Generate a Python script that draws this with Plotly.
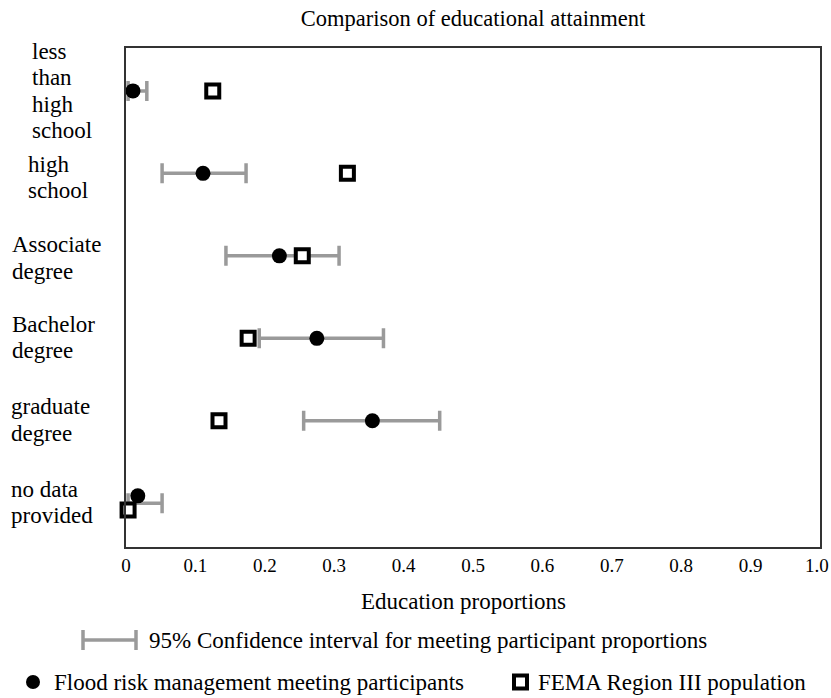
import plotly.graph_objects as go

categories = ["less than high school", "high school", "Associate degree",
              "Bachelor degree", "graduate degree", "no data provided"]
category_lines = [["less", "than", "high", "school"], ["high", "school"], ["Associate", "degree"],
                  ["Bachelor", "degree"], ["graduate", "degree"], ["no data", "provided"]]
participants = [0.010, 0.111, 0.221, 0.275, 0.355, 0.017]
ci_low = [0.003, 0.052, 0.144, 0.192, 0.256, 0.003]
ci_high = [0.030, 0.173, 0.307, 0.371, 0.452, 0.052]
fema = [0.125, 0.319, 0.254, 0.176, 0.134, 0.003]
x_ticks = [0, 0.1, 0.2, 0.3, 0.4, 0.5, 0.6, 0.7, 0.8, 0.9]
x_tick_text = ["0", "0.1", "0.2", "0.3", "0.4", "0.5", "0.6", "0.7", "0.8", "0.9"]
x_end_value = 1.0
x_end_label = "1.0"

FONT = "Liberation Serif"
GRAY = "#9a9a9a"
W, H = 831, 698
L, R, T, B = 126, 11, 48, 151
PW, PH = W - L - R, H - T - B

ypos = list(range(len(categories)))
# small vertical separation used in the last row of the original
offset_circle = [0, 0, 0, 0, 0, -0.09]
offset_square = [0, 0, 0, 0, 0, 0.08]
y_c = [y + o for y, o in zip(ypos, offset_circle)]
y_s = [y + o for y, o in zip(ypos, offset_square)]

fig = go.Figure()
fig.add_trace(go.Scatter(
    x=participants, y=ypos, mode="markers",
    marker=dict(size=1, color="rgba(0,0,0,0)"),
    error_x=dict(type="data", symmetric=False,
                 array=[h - p for h, p in zip(ci_high, participants)],
                 arrayminus=[p - l for p, l in zip(participants, ci_low)],
                 color=GRAY, thickness=3.5, width=10),
    showlegend=False, hoverinfo="skip", cliponaxis=False))
fig.add_trace(go.Scatter(
    x=participants, y=y_c, mode="markers",
    marker=dict(symbol="circle", size=15, color="black"),
    name="Flood risk management meeting participants", showlegend=False, cliponaxis=False))
fig.add_trace(go.Scatter(
    x=fema, y=y_s, mode="markers",
    marker=dict(symbol="square", size=13, color="white", line=dict(color="black", width=4)),
    name="FEMA Region III population", showlegend=False, cliponaxis=False))

def px(x):
    return (x - L) / PW

def py(y):
    return (H - B - y) / PH

TXT = 23
annotations = []
label_x = [30, 26, 10, 10, 9, 9]
label_shift = [0, -4, -2, 1, 1, 1]
LINE = 26.5
for i, (lines, lx) in enumerate(zip(category_lines, label_x)):
    n = len(lines)
    for j, t in enumerate(lines):
        annotations.append(dict(x=px(lx), y=ypos[i], xref="paper", yref="y", text=t,
                                yshift=label_shift[i] + ((n - 1) / 2 - j) * LINE,
                                showarrow=False, xanchor="left", yanchor="middle",
                                font=dict(family=FONT, size=TXT, color="black")))
# last tick label, kept inside the page
annotations.append(dict(x=x_end_value, y=py(565), xref="x", yref="paper", text=x_end_label,
                        xanchor="right", xshift=11, showarrow=False, yanchor="middle",
                        font=dict(family=FONT, size=19, color="black")))
# x-axis title
annotations.append(dict(x=px(463), y=py(601), xref="paper", yref="paper", text="Education proportions",
                        showarrow=False, xanchor="center", yanchor="middle",
                        font=dict(family=FONT, size=TXT, color="black")))

shapes = []
ly1, ly2 = 640, 682
shapes.append(dict(type="line", xref="paper", yref="paper", x0=px(83), x1=px(136), y0=py(ly1), y1=py(ly1),
                   line=dict(color=GRAY, width=3.5)))
for cx in (83, 136):
    shapes.append(dict(type="line", xref="paper", yref="paper", x0=px(cx), x1=px(cx), y0=py(ly1 - 10), y1=py(ly1 + 10),
                       line=dict(color=GRAY, width=3.5)))
annotations.append(dict(x=px(147), y=py(ly1), xref="paper", yref="paper", showarrow=False,
                        text="95% Confidence interval for meeting participant proportions",
                        xanchor="left", yanchor="middle", font=dict(family=FONT, size=TXT, color="black")))
shapes.append(dict(type="circle", xref="paper", yref="paper", x0=px(26), x1=px(40), y0=py(ly2 - 7), y1=py(ly2 + 7),
                   fillcolor="black", line=dict(color="black", width=0)))
annotations.append(dict(x=px(52), y=py(ly2), xref="paper", yref="paper", showarrow=False,
                        text="Flood risk management meeting participants",
                        xanchor="left", yanchor="middle", font=dict(family=FONT, size=TXT, color="black")))
shapes.append(dict(type="rect", xref="paper", yref="paper", x0=px(514), x1=px(527), y0=py(ly2 - 6.5), y1=py(ly2 + 6.5),
                   fillcolor="white", line=dict(color="black", width=4)))
annotations.append(dict(x=px(536), y=py(ly2), xref="paper", yref="paper", showarrow=False,
                        text="FEMA Region III population",
                        xanchor="left", yanchor="middle", font=dict(family=FONT, size=TXT, color="black")))

fig.update_layout(
    width=W, height=H,
    margin=dict(l=L, r=R, t=T, b=B, autoexpand=False),
    paper_bgcolor="white", plot_bgcolor="white",
    title=dict(text="Comparison of educational attainment", x=(L + PW / 2) / W, xanchor="center",
               y=1 - 18 / H, yanchor="middle", font=dict(family=FONT, size=22.5, color="black")),
    xaxis=dict(range=[0, 1.0], tickvals=x_ticks, ticktext=x_tick_text, showgrid=False, zeroline=False,
               showline=True, mirror=True, linecolor="#333333", linewidth=1.5, ticks="", automargin=False,
               tickfont=dict(family=FONT, size=19, color="black")),
    yaxis=dict(range=[5.53, -0.52], showticklabels=False, showgrid=False, zeroline=False, automargin=False,
               showline=True, mirror=True, linecolor="#333333", linewidth=1.5, ticks=""),
    annotations=annotations, shapes=shapes, showlegend=False,
)

fig.write_html("out.html")
